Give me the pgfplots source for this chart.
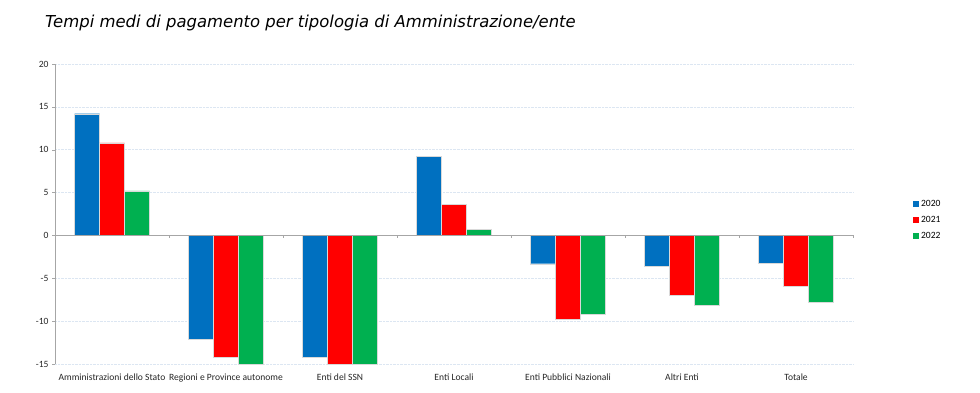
\documentclass[border=0pt]{standalone}
\usepackage{fontspec}
\setmainfont{Carlito}
\newfontfamily\titlefont{DejaVu Sans}
\usepackage{pgfplots}
\pgfplotsset{compat=1.18}
\definecolor{cA}{HTML}{0070C0}
\definecolor{cB}{HTML}{FF0000}
\definecolor{cC}{HTML}{00B050}
\definecolor{gridc}{HTML}{DCE6F2}
\definecolor{axc}{HTML}{A6A6A6}
\begin{document}
\begin{tikzpicture}[x=1bp,y=1bp]
\path[use as bounding box] (0,0) rectangle (980,392);
\node[anchor=west,font=\titlefont\itshape\fontsize{16.5}{19}\selectfont,inner sep=0] at (45,369) {Tempi medi di pagamento per tipologia di Amministrazione/ente};
\begin{axis}[
  at={(55bp,28bp)}, anchor=south west,
  scale only axis, width=798bp, height=300bp,
  ybar=0pt, bar width=25bp,
  ymin=-15, ymax=20, ytick={-15,-10,...,20},
  xmin=-0.5, xmax=6.5,
  xtick={0,...,6},
  xticklabels={Amministrazioni dello Stato,Regioni e Province autonome,Enti del SSN,Enti Locali,Enti Pubblici Nazionali,Altri Enti,Totale},
  x axis line style={draw=none},
  axis y line=left, y axis line style={draw=axc,-},
  axis x line=bottom,
  xtick style={draw=none},
  ytick style={draw=axc},
  major tick length=3bp,
  tick align=outside,
  ymajorgrids, grid style={gridc, densely dotted, line width=0.6pt},
  tick label style={font=\fontsize{9.6}{11}\selectfont, text=black!85},
  xticklabel style={yshift=-3bp},
  /pgf/number format/assume math mode=true,
  legend style={at={(1.075,0.48)}, anchor=west, draw=none, fill=none,
    font=\fontsize{9.6}{11}\selectfont, row sep=4bp, inner sep=0pt},
  legend cell align=left,
  legend image code/.code={\fill[#1,draw=none] (0bp,-3bp) rectangle (6bp,3bp);},
  clip=false,
]
\addplot[fill=cA, draw=white!85!black, line width=0.4pt] coordinates {(0,14.2) (1,-12.1) (2,-14.2) (3,9.2) (4,-3.3) (5,-3.6) (6,-3.2)};
\addplot[fill=cB, draw=white!85!black, line width=0.4pt] coordinates {(0,10.8) (1,-14.2) (2,-15.0) (3,3.6) (4,-9.8) (5,-7.0) (6,-5.9)};
\addplot[fill=cC, draw=white!85!black, line width=0.4pt] coordinates {(0,5.2) (1,-15.0) (2,-15.0) (3,0.7) (4,-9.2) (5,-8.1) (6,-7.8)};
\legend{2020,2021,2022}
\draw[axc, line width=0.6pt] (axis cs:-0.5,0) -- (axis cs:6.5,0);
\pgfplotsinvokeforeach{0.5,1.5,2.5,3.5,4.5,5.5,6.5}{
  \draw[axc, line width=0.6pt] (axis cs:#1,0) -- ([yshift=-3bp]axis cs:#1,0);
}
\end{axis}
\end{tikzpicture}
\end{document}
